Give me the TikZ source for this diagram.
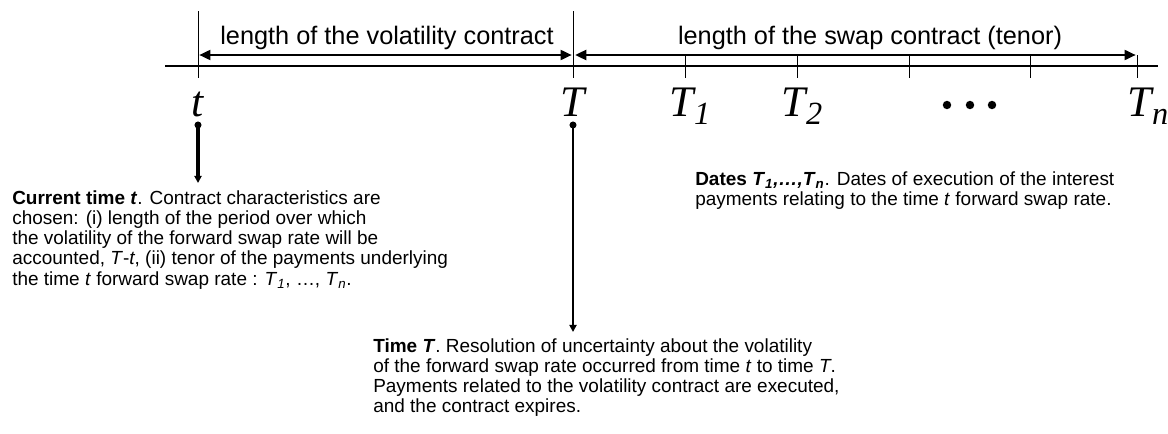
\documentclass[tikz,border=0pt]{standalone}
\usepackage{fontspec}
\setmainfont{Liberation Sans}
\newfontfamily\timefont{Liberation Serif}
\usepackage{tikz}
\usetikzlibrary{positioning, arrows.meta}
% big italic time labels with a lowered index
\newcommand{\timelab}[2]{{\timefont\itshape #1\raisebox{-0.2em}{\fontsize{23}{23}\selectfont #2}}}
\newcommand{\idx}[1]{\textsubscript{\textit{#1}}}

\begin{document}
\begin{tikzpicture}[
  axis/.style={line width=1pt},
  tick/.style={line width=0.7pt},
  span/.style={{Triangle[length=8pt, width=7pt]}-{Triangle[length=8pt, width=7pt]}, line width=1.8pt},
  spanlbl/.style={font=\fontsize{18}{20}\selectfont, inner sep=0pt},
  tlbl/.style={font=\fontsize{31}{31}\selectfont\timefont\itshape, inner sep=0pt, anchor=base},
  dot/.style={circle, fill=black, inner sep=0pt, minimum size=5pt},
  down/.style={-{Triangle[length=5pt, width=5pt]}, line width=2.2pt},
  downthin/.style={-{Triangle[length=5pt, width=5pt]}, line width=1.4pt},
  txt/.style={font=\fontsize{13.5}{14.4}\selectfont, align=left, inner sep=0pt, anchor=north west}
]
\useasboundingbox (0,0) rectangle (29.2,-10.85);

% ===== Time axis =====
\coordinate (t)  at (4.95, -1.65);
\coordinate (T)  at (14.325, -1.65);
\coordinate (T1) at (17.125, -1.65);
\coordinate (T2) at (19.925, -1.65);
\coordinate (T3) at (22.725, -1.65);
\coordinate (T4) at (25.75, -1.65);
\coordinate (Tn) at (28.425, -1.65);
\coordinate (start) at (4.125, -1.65);
\coordinate (end)   at (28.95, -1.65);

\draw[axis] (start) -- (end);
\foreach \p in {t,T}{\draw[tick] ([yshift=1.375cm]\p) -- ([yshift=-0.3cm]\p);}
\foreach \p in {T1,T2,T3,T4,Tn}{\draw[tick] ([yshift=0.275cm]\p) -- ([yshift=-0.3cm]\p);}

% ===== Spans =====
\draw[span] ([xshift=0.03cm, yshift=0.275cm]t) -- ([xshift=-0.03cm, yshift=0.275cm]T);
\draw[span] ([xshift=0.05cm, yshift=0.275cm]T) -- ([xshift=-0.03cm, yshift=0.275cm]Tn);
\node[spanlbl] (vollbl)  at (9.675, -0.95) {length of the volatility contract};
\node[spanlbl] (swaplbl) at (21.75, -0.95) {length of the swap contract (tenor)};

% ===== Time labels =====
\node[tlbl] (tlab)  at (4.95, -2.9) {t};
\node[tlbl] (Tlab)  at (14.325, -2.9) {T};
\node[tlbl] (T1lab) at (17.25, -2.9) {\timelab{T}{1}};
\node[tlbl] (T2lab) at (20.05, -2.9) {\timelab{T}{2}};
\node[tlbl] (Tnlab) at (28.7, -2.9) {\timelab{T}{n}};
\foreach \x [count=\i] in {23.675, 24.25, 24.8}{\node[dot, minimum size=6pt] (ell\i) at (\x, -2.625) {};}

% ===== Descriptions =====
\node[dot] (tdot) at (4.95, -3.125) {};
\node[dot] (Tdot) at (14.325, -3.125) {};

\node[txt] (curtxt) at (0.3, -4.75) {\textbf{Current time \textit{t}}. Contract characteristics are\\
chosen: (i) length of the period over which\\
the volatility of the forward swap rate will be\\
accounted, \textit{T}-\textit{t}, (ii) tenor of the payments underlying\\
the time \textit{t} forward swap rate : \textit{T}\idx{1}, …, \textit{T}\idx{n}.};

\node[txt] (Ttxt) at (9.325, -8.45) {\textbf{Time \textit{T}}. Resolution of uncertainty about the volatility\\
of the forward swap rate occurred from time \textit{t} to time \textit{T}.\\
Payments related to the volatility contract are executed,\\
and the contract expires.};

\node[txt] (datetxt) at (17.375, -4.275) {\textbf{Dates \textit{T}\idx{1}\textit{,…,T}\idx{n}}. Dates of execution of the interest\\
payments relating to the time \textit{t} forward swap rate.};

\draw[down] (tdot.center) -- ([yshift=0.175cm]curtxt.north -| tdot);
\draw[downthin] (Tdot.center) -- ([yshift=0.15cm]Ttxt.north -| Tdot);

\end{tikzpicture}
\end{document}
